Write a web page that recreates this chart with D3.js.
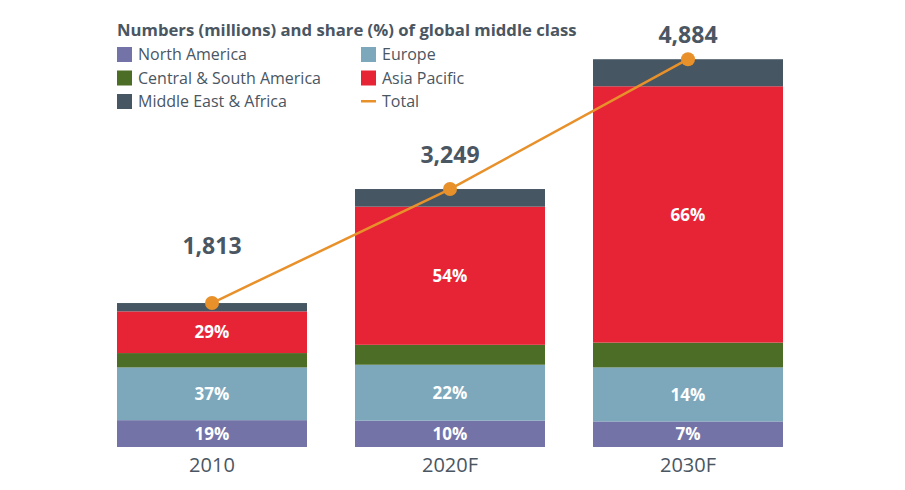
<!DOCTYPE html>
<html><head><meta charset="utf-8">
<script src="https://cdn.jsdelivr.net/npm/d3@7"></script>
<style>body{margin:0;background:#fff}svg{display:block;font-family:"Open Sans","Noto Sans",sans-serif}</style>
</head><body>
<svg id="c" width="905" height="490"></svg>
<script>
const categories = ["2010", "2020F", "2030F"];
const seriesNames = ["North America", "Europe", "Central & South America", "Asia Pacific", "Middle East & Africa"];
const northAmerica = [338, 333, 322];
const europe = [664, 703, 680];
const centralSouthAmerica = [181, 251, 313];
const asiaPacific = [525, 1740, 3228];
const middleEastAfrica = [105, 222, 341];
const totals = [1813, 3249, 4884];
const totalLabels = ["1,813", "3,249", "4,884"];
const shareLabels = {
  "North America": ["19%", "10%", "7%"],
  "Europe": ["37%", "22%", "14%"],
  "Asia Pacific": ["29%", "54%", "66%"]
};
const colors = ["#7473a7", "#7da8bc", "#4c6d26", "#e72436", "#465662"];
const lineColor = "#e8912b";
const textColor = "#4a5662";

const svg = d3.select("#c");
const seriesValues = [northAmerica, europe, centralSouthAmerica, asiaPacific, middleEastAfrica];
const rows = categories.map((c, i) => {
  const r = {cat: c};
  seriesNames.forEach((s, j) => r[s] = seriesValues[j][i]);
  return r;
});
const stack = d3.stack().keys(seriesNames)(rows);

const x = d3.scaleBand().domain(categories).range([117, 783]).paddingInner(0.2017).paddingOuter(0);
const y = d3.scaleLinear().domain([0, 5000]).range([447, 447 - 5000 * 0.0794]);

const g = svg.append("g");
stack.forEach((layer, j) => {
  g.selectAll(null).data(layer).enter().append("rect")
    .attr("x", d => x(d.data.cat))
    .attr("width", x.bandwidth())
    .attr("y", d => y(d[1]))
    .attr("height", d => y(d[0]) - y(d[1]))
    .attr("fill", colors[j]);
  const labs = shareLabels[layer.key];
  if (labs) {
    g.selectAll(null).data(layer).enter().append("text")
      .attr("x", d => x(d.data.cat) + x.bandwidth() / 2)
      .attr("y", d => (y(d[0]) + y(d[1])) / 2)
      .attr("dy", "0.36em")
      .attr("text-anchor", "middle")
      .attr("fill", "#fff")
      .attr("font-weight", "bold")
      .attr("font-size", 17)
      .text((d, i) => labs[i]);
  }
});

// x axis labels
const xAxis = d3.axisBottom(x).tickSize(0).tickPadding(11);
const ax = svg.append("g").attr("transform", "translate(0,447)").call(xAxis);
ax.select(".domain").remove();
ax.selectAll("text").attr("font-size", 20).attr("fill", textColor).attr("font-family", "'Open Sans','Noto Sans',sans-serif");

// total line
const cx = c => x(c) + x.bandwidth() / 2;
const line = d3.line().x((d, i) => cx(categories[i])).y(d => y(d));
svg.append("path").datum(totals).attr("d", line)
  .attr("fill", "none").attr("stroke", lineColor).attr("stroke-width", 2.5);
svg.selectAll(null).data(totals).enter().append("circle")
  .attr("cx", (d, i) => cx(categories[i])).attr("cy", d => y(d)).attr("r", 7)
  .attr("fill", lineColor);
const labelLift = [49, 26, 16];
svg.selectAll(null).data(totals).enter().append("text")
  .attr("x", (d, i) => cx(categories[i]))
  .attr("y", (d, i) => y(d) - labelLift[i])
  .attr("text-anchor", "middle")
  .attr("fill", textColor).attr("font-weight", "bold").attr("font-size", 23)
  .text((d, i) => totalLabels[i]);

// title & legend
svg.append("text").attr("x", 117).attr("y", 36).attr("fill", textColor)
  .attr("font-weight", "bold").attr("font-size", 16.7)
  .text("Numbers (millions) and share (%) of global middle class");
const legendItems = [
  {name: "North America", color: colors[0], col: 0, row: 0},
  {name: "Central & South America", color: colors[2], col: 0, row: 1},
  {name: "Middle East & Africa", color: colors[4], col: 0, row: 2},
  {name: "Europe", color: colors[1], col: 1, row: 0},
  {name: "Asia Pacific", color: colors[3], col: 1, row: 1},
  {name: "Total", color: lineColor, col: 1, row: 2, line: true}
];
const lg = svg.append("g");
legendItems.forEach(it => {
  const lx = 117 + it.col * 244, ly = 47 + it.row * 23.5;
  if (it.line) lg.append("rect").attr("x", lx).attr("y", ly + 6).attr("width", 15).attr("height", 2.5).attr("fill", it.color);
  else lg.append("rect").attr("x", lx).attr("y", ly).attr("width", 15).attr("height", 15).attr("fill", it.color);
  lg.append("text").attr("x", lx + 21).attr("y", ly + 13).attr("font-size", 16)
    .attr("fill", textColor).text(it.name);
});
</script>
</body></html>
